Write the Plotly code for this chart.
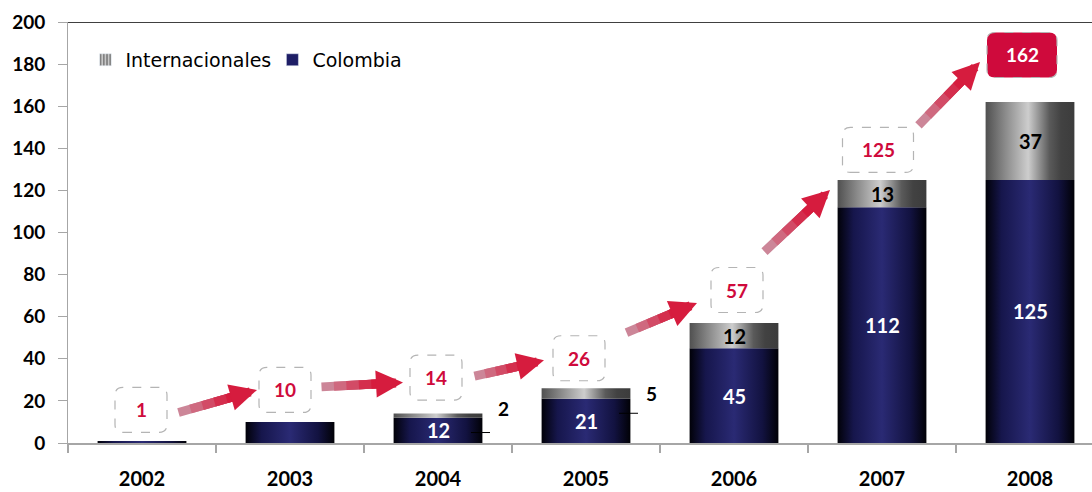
import plotly.graph_objects as go

# ---------------- data ----------------
years = ["2002", "2003", "2004", "2005", "2006", "2007", "2008"]
colombia = [1, 10, 12, 21, 45, 112, 125]
internacionales = [0, 0, 2, 5, 12, 13, 37]
totals = [1, 10, 14, 26, 57, 125, 162]
y_ticks = [0, 20, 40, 60, 80, 100, 120, 140, 160, 180, 200]

# ---------------- layout constants ----------------
W, H = 1092, 492
ML, MR, MT, MB = 68, 0, 22, 49
PX_PER_CAT = 148.0
plot_w = W - ML - MR
plot_h = H - MT - MB
X_LO = -0.5
X_HI = X_LO + plot_w / PX_PER_CAT
Y_MAX = 200
PX_PER_Y = plot_h / Y_MAX
BAR_HALF = 0.30

FONT = "Lato"
RED = "#cf0a3c"
NAVY_SCALE = [[0, "#010108"], [0.18, "#16164c"], [0.5, "#2a2a74"], [0.82, "#121240"], [1, "#010106"]]
GRAY_SCALE = [[0, "#505050"], [0.2, "#858585"], [0.48, "#cdcdcd"], [0.72, "#5a5a5a"], [0.85, "#424242"], [1, "#3c3c3c"]]

# box positions (pixel offsets of total boxes relative to the top of each bar)
box_dx = [-1, -5, -2, -7, 3, -4, -8]
box_dy = [31, 32, 36, 30, 33, 30, 47]
box_w = [52, 52, 52, 52, 52, 71, 70]
BOX_H = 45

# arrow endpoints (pixel offsets: tail relative to box i, head relative to box i+1), dy downwards
arrow_tail = [(36, 3), (35, -3), (37, -1), (46, -25), (26, -37), (39, -23)]
arrow_head = [(-28, 0), (-33, 5), (-35, 2), (-40, 13), (-48, 40), (-42, 7)]


def px_x(i, dx):
    return i + dx / PX_PER_CAT


def px_y(v, dy_up):
    return v + dy_up / PX_PER_Y


fig = go.Figure()

# ---------------- bars (gradient filled) ----------------
for i in range(len(years)):
    segs = [(0, colombia[i], NAVY_SCALE), (colombia[i], colombia[i] + internacionales[i], GRAY_SCALE)]
    for b, t, scale in segs:
        if t - b <= 0:
            continue
        x0, x1 = i - BAR_HALF, i + BAR_HALF
        fig.add_trace(go.Scatter(
            x=[x0, x1, x1, x0, x0], y=[b, b, t, t, b],
            mode="lines", line=dict(width=0, color="rgba(0,0,0,0)"),
            fill="toself",
            fillgradient=dict(type="horizontal", colorscale=scale),
            showlegend=False, hoverinfo="skip"))

# legend entries
fig.add_trace(go.Bar(x=[None], y=[None], name="Internacionales",
                     marker=dict(color="#c8c8c8",
                                 pattern=dict(shape="|", fgcolor="#3a3a3a", bgcolor="#c8c8c8", size=4, solidity=0.5))))
fig.add_trace(go.Bar(x=[None], y=[None], name="Colombia", marker=dict(color="#1e1e66")))

annotations = []
shapes = []

# ---------------- bar value labels ----------------
for i in range(len(years)):
    if colombia[i] > 10:
        annotations.append(dict(x=i, y=colombia[i] / 2, text=f"<b>{colombia[i]}</b>", showarrow=False,
                                font=dict(family=FONT, size=20, color="white")))
    v = internacionales[i]
    if v >= 10:
        annotations.append(dict(x=i, y=colombia[i] + v / 2, text=f"<b>{v}</b>", showarrow=False,
                                font=dict(family=FONT, size=20, color="black")))
    elif v > 0:
        # leader line and outside label
        ly = px_y(totals[i], -19 if i == 2 else -25)
        shapes.append(dict(type="line", xref="x", yref="y", x0=px_x(i, 33), x1=px_x(i, 52),
                           y0=ly, y1=ly, line=dict(color="black", width=1)))
        annotations.append(dict(x=px_x(i, 65), y=px_y(totals[i], 5 if i == 2 else -5), text=f"<b>{v}</b>",
                                showarrow=False, font=dict(family=FONT, size=19, color="black")))

# ---------------- gradient arrows ----------------
def lerp_col(c0, c1, t):
    return "rgb(%d,%d,%d)" % tuple(round(a + (b - a) * t) for a, b in zip(c0, c1))

TAIL_C = (203, 146, 162)
HEAD_C = (214, 28, 62)
starts = [0.0, 0.15, 0.3, 0.45, 0.6]
BODY_END = 0.78
for k in range(len(years) - 1):
    tx = px_x(k, box_dx[k] + arrow_tail[k][0])
    ty = px_y(totals[k], box_dy[k] - arrow_tail[k][1])
    hx = px_x(k + 1, box_dx[k + 1] + arrow_head[k][0])
    hy = px_y(totals[k + 1], box_dy[k + 1] - arrow_head[k][1])
    for s, fa in enumerate(starts):
        is_head = s == len(starts) - 1
        fb = 1.0 if is_head else BODY_END
        annotations.append(dict(
            x=tx + (hx - tx) * fb, y=ty + (hy - ty) * fb,
            ax=tx + (hx - tx) * fa, ay=ty + (hy - ty) * fa,
            xref="x", yref="y", axref="x", ayref="y", text="",
            showarrow=True, arrowhead=2 if is_head else 0, arrowsize=0.6,
            arrowwidth=9, arrowcolor=lerp_col(TAIL_C, HEAD_C, min(1.0, fa / starts[-1] + 0.1)),
            standoff=0, startstandoff=0))

# ---------------- total boxes ----------------
R = 8
for i in range(len(years)):
    cx, cy = box_dx[i], box_dy[i]
    w2, h2 = box_w[i] / 2, BOX_H / 2
    x0, x1, y0, y1 = cx - w2, cx + w2, cy - h2, cy + h2
    path = (f"M{x0+R},{y0} L{x1-R},{y0} Q{x1},{y0} {x1},{y0+R} L{x1},{y1-R} Q{x1},{y1} {x1-R},{y1} "
            f"L{x0+R},{y1} Q{x0},{y1} {x0},{y1-R} L{x0},{y0+R} Q{x0},{y0} {x0+R},{y0} Z")
    last = i == len(years) - 1
    shapes.append(dict(type="path", xref="x", yref="y", xsizemode="pixel", ysizemode="pixel",
                       xanchor=i, yanchor=totals[i], path=path,
                       fillcolor=RED if last else "rgba(255,255,255,0)",
                       line=dict(color="#b4b4b4", width=1.2, dash="dash"), layer="above"))
    annotations.append(dict(x=i, y=totals[i], xshift=cx, yshift=cy, text=f"<b>{totals[i]}</b>",
                            showarrow=False,
                            font=dict(family=FONT, size=19, color="white" if last else RED)))

# top border line
shapes.append(dict(type="line", xref="paper", yref="y", x0=0, x1=1, y0=Y_MAX, y1=Y_MAX,
                   line=dict(color="black", width=1.5)))

fig.update_layout(
    width=W, height=H,
    margin=dict(l=ML, r=MR, t=MT, b=MB, autoexpand=False),
    paper_bgcolor="white", plot_bgcolor="white",
    showlegend=True,
    legend=dict(orientation="h", x=0.017, y=0.91, xanchor="left", yanchor="middle",
                font=dict(family="DejaVu Sans", size=19, color="black"),
                entrywidth=142, entrywidthmode="pixels", bgcolor="rgba(0,0,0,0)", traceorder="normal"),
    xaxis=dict(range=[X_LO, X_HI], tickmode="array", tickvals=list(range(len(years))), ticktext=years,
               ticks="", showline=True, linecolor="#a6a6a6", linewidth=2, showgrid=False, zeroline=False,
               tickfont=dict(family=FONT, size=20, color="black", weight="bold"),
               ticklabelstandoff=17,
               minor=dict(ticks="outside", tickvals=[i - 0.5 for i in range(len(years) + 1)],
                          ticklen=8, tickcolor="#a6a6a6", tickwidth=2)),
    yaxis=dict(range=[0, Y_MAX], tickmode="array", tickvals=y_ticks, ticks="outside", ticklen=9,
               tickcolor="#a6a6a6", showline=True, linecolor="#a6a6a6", linewidth=1, showgrid=False,
               zeroline=False, tickfont=dict(family=FONT, size=19, color="black", weight="bold"),
               ticklabelstandoff=9),
    annotations=annotations, shapes=shapes,
)

fig.write_html("out.html")
